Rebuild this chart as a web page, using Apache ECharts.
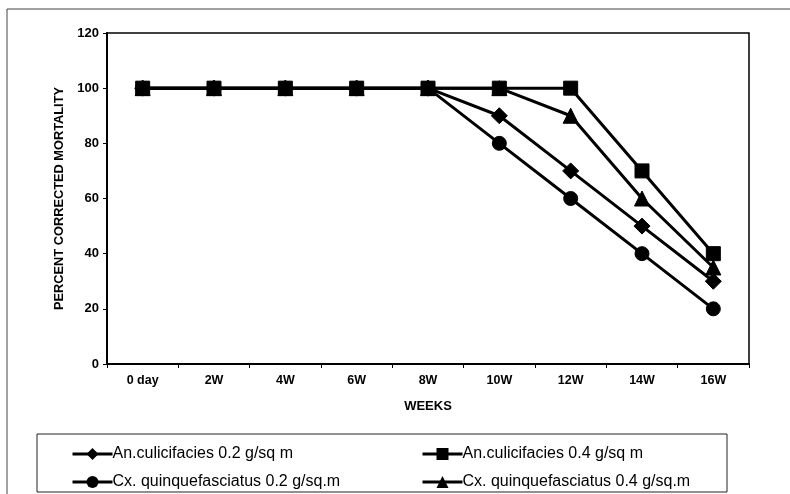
<!DOCTYPE html>
<html>
<head>
<meta charset="utf-8">
<script src="https://cdn.jsdelivr.net/npm/echarts@6/dist/echarts.min.js"></script>
<style>
html,body{margin:0;padding:0;background:#fff;}
#chart{width:790px;height:494px;}
</style>
</head>
<body>
<div id="chart"></div>
<script>
var categories = ['0 day','2W','4W','6W','8W','10W','12W','14W','16W'];
var anCul02 = [100,100,100,100,100,90,70,50,30];
var anCul04 = [100,100,100,100,100,100,100,70,40];
var cxQuin02 = [100,100,100,100,100,80,60,40,20];
var cxQuin04 = [100,100,100,100,100,100,90,60,35];
var yTicks = [0,20,40,60,80,100,120];
var seriesNames = ['An.culicifacies 0.2 g/sq m','An.culicifacies 0.4 g/sq m','Cx. quinquefasciatus 0.2 g/sq.m','Cx. quinquefasciatus 0.4 g/sq.m'];

var font = 'Liberation Sans, Arial, sans-serif';
var chart = echarts.init(document.getElementById('chart'));

function mk(name, data, symbol, size){
  return {
    name: name, type: 'line', data: data,
    symbol: symbol, symbolSize: size,
    lineStyle: {color:'#000', width: 3},
    itemStyle: {color:'#000', borderColor:'#000'},
    emphasis: {disabled: true},
    animation: false
  };
}
function lg(name, left, top){
  return {
    left:left, top:top, orient:'horizontal', itemWidth:40, itemHeight:15, itemGap:0,
    data:[name],
    lineStyle:{width:3, color:'#000'},
    textStyle:{fontFamily:font, fontSize:16, color:'#000', padding:[0,0,0,-5]},
    selectedMode:false
  };
}

chart.setOption({
  animation: false,
  backgroundColor: '#fff',
  grid: {left:107, right:41, top:33, bottom:130, show:true, borderColor:'#000', borderWidth:1.5, backgroundColor:'transparent'},
  xAxis: {
    type:'category', data: categories, boundaryGap:true,
    name:'WEEKS', nameLocation:'middle', nameGap:36,
    nameTextStyle:{fontFamily:font, fontWeight:'bold', fontSize:13, color:'#000'},
    axisLine:{lineStyle:{color:'#000', width:2}},
    axisTick:{show:true, length:4, lineStyle:{color:'#000'}},
    axisLabel:{fontFamily:font, fontWeight:'bold', fontSize:12.5, color:'#000', margin:10},
    splitLine:{show:false}
  },
  yAxis: {
    type:'value', min: yTicks[0], max: yTicks[yTicks.length-1], interval: 20,
    name:'PERCENT CORRECTED MORTALITY', nameLocation:'middle', nameGap:40,
    nameTextStyle:{fontFamily:font, fontWeight:'bold', fontSize:12.8, color:'#000'},
    axisLine:{show:true, lineStyle:{color:'#000', width:2}},
    axisTick:{show:true, length:4, lineStyle:{color:'#000'}},
    axisLabel:{fontFamily:font, fontWeight:'bold', fontSize:13, color:'#000', margin:8},
    splitLine:{show:false}
  },
  legend: [
    lg(seriesNames[0], 66, 441),
    lg(seriesNames[2], 66, 469),
    lg(seriesNames[1], 416, 441),
    lg(seriesNames[3], 416, 469)
  ],
  graphic: [
    {type:'rect', shape:{x:7, y:9, width:800, height:500}, style:{fill:'none', stroke:'#444', lineWidth:1}, silent:true},
    {type:'rect', shape:{x:37, y:434, width:690, height:58}, style:{fill:'none', stroke:'#222', lineWidth:1}, silent:true}
  ],
  series: [
    mk(seriesNames[2], cxQuin02, 'circle', 14),
    mk(seriesNames[0], anCul02, 'diamond', 16),
    mk(seriesNames[3], cxQuin04, 'triangle', 15),
    mk(seriesNames[1], anCul04, 'rect', 14)
  ]
});
</script>
</body>
</html>
